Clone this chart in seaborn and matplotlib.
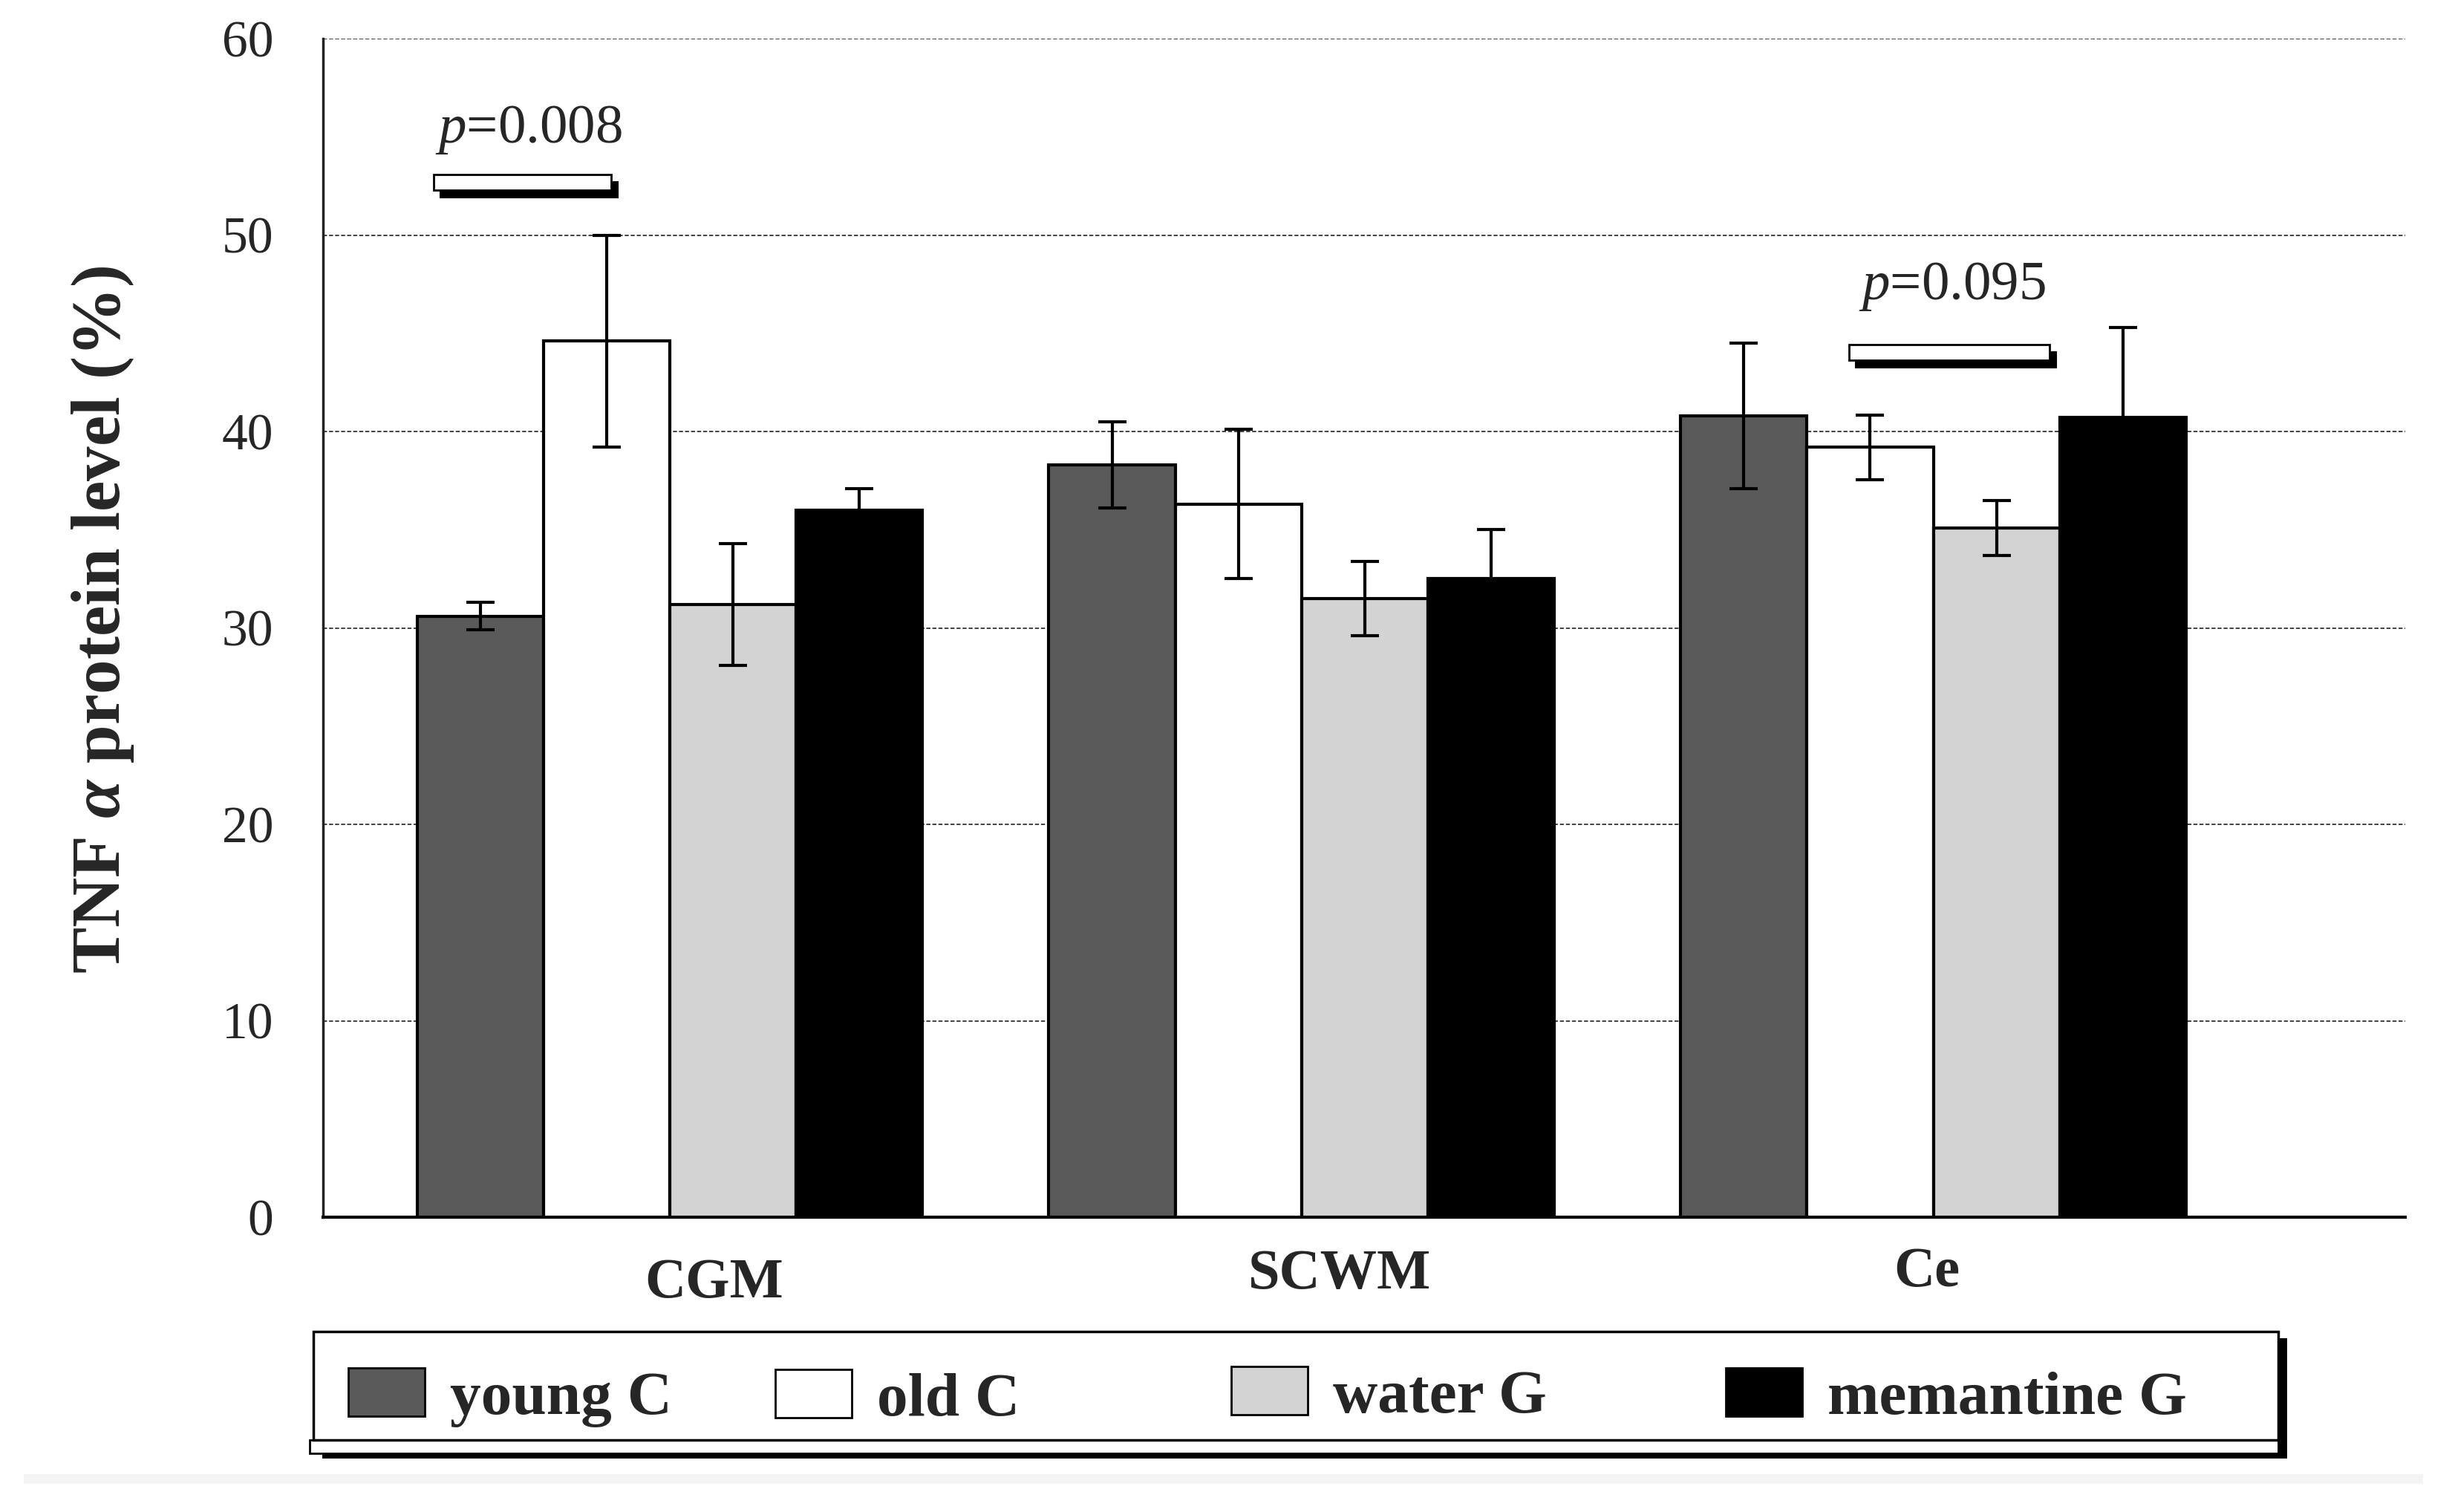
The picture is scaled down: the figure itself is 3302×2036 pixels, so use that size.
import pandas as pd
import seaborn as sns
import matplotlib.pyplot as plt
from matplotlib.patches import Rectangle, Patch
from matplotlib.transforms import offset_copy

# ----------------------------
# Data
# ----------------------------
regions = ["CGM", "SCWM", "Ce"]
groups = ["young C", "old C", "water G", "memantine G"]

young_c = [30.6, 38.3, 40.8]
old_c = [44.6, 36.3, 39.2]
water_g = [31.2, 31.5, 35.1]
memantine_g = [36.0, 32.5, 40.7]

young_c_err = [0.7, 2.2, 3.7]
old_c_err = [5.4, 3.8, 1.65]
water_g_err = [3.1, 1.9, 1.4]
memantine_g_err = [1.1, 2.5, 4.6]

colors = ["#5a5a5a", "#ffffff", "#d3d3d3", "#000000"]
y_ticks = [0, 10, 20, 30, 40, 50, 60]

# significance markers: label, bar x-range, bar bottom, label position
p_labels = ["0.008", "0.095"]
p_bar_x = [(-0.374, -0.093), (1.866, 2.184)]
p_bar_y = [52.3, 43.63]
p_text_pos = [(-0.372, 54.7), (1.882, 46.73)]

df = pd.DataFrame({
    "region": regions * 4,
    "group": [g for g in groups for _ in regions],
    "value": young_c + old_c + water_g + memantine_g,
})
errs = [young_c_err, old_c_err, water_g_err, memantine_g_err]

# ----------------------------
# Style
# ----------------------------
sns.set_style("white")
plt.rcParams["font.family"] = ["Liberation Serif", "DejaVu Serif"]
plt.rcParams["mathtext.fontset"] = "custom"
plt.rcParams["mathtext.rm"] = "Liberation Serif"
plt.rcParams["mathtext.it"] = "Liberation Serif:italic"
plt.rcParams["mathtext.bf"] = "Liberation Serif:bold"
plt.rcParams["mathtext.bfit"] = "Liberation Serif:italic:bold"

W, H = 3302, 2036
fig = plt.figure(figsize=(W / 100, H / 100), dpi=100)
ax = fig.add_axes([435 / W, 1 - 1639 / H, (3239 - 435) / W, (1639 - 52) / H])


def fig_box(x0, y0, x1, y1):
    """image pixel box (top-left origin) -> figure fraction rect"""
    return (x0 / W, 1 - y1 / H), (x1 - x0) / W, (y1 - y0) / H


sns.barplot(
    data=df, x="region", y="value", hue="group",
    order=regions, hue_order=groups, palette=colors,
    errorbar=None, edgecolor="black", linewidth=3,
    width=0.8, saturation=1, legend=False, ax=ax, zorder=3,
)

# error bars at the centres of the bars seaborn drew
for container, err in zip(ax.containers, errs):
    for bar, e in zip(container, err):
        xc = bar.get_x() + bar.get_width() / 2
        ax.errorbar(xc, bar.get_height(), yerr=e, color="black",
                    capsize=14, elinewidth=3, capthick=3, zorder=5)

ax.set_ylim(0, 60)
ax.set_xlim(-0.549, 2.747)
ax.set_yticks(y_ticks)
ax.yaxis.grid(True, linestyle=(0, (3, 1.5)), color="#333333", linewidth=1.3)
ax.set_axisbelow(True)
ax.tick_params(axis="y", length=16, width=1.3, color="#333333", pad=32, labelsize=50)
ax.tick_params(axis="x", length=0, labelbottom=False)
ax.set_xlabel("")
ax.set_ylabel("")

for s in ["top", "right"]:
    ax.spines[s].set_visible(False)
ax.spines["left"].set_linewidth(2.5)
ax.spines["left"].set_color("#222222")
ax.spines["bottom"].set_linewidth(3)
ax.spines["bottom"].set_color("black")

# category labels (slightly offset like the original)
label_dx = [0.07, 0.06, -0.01]
label_y = [-3.38, -2.92, -2.83]
for i, (name, dx, ly) in enumerate(zip(regions, label_dx, label_y)):
    ax.text(i + dx, ly, name, ha="center", va="center", fontsize=55,
            fontweight="bold", clip_on=False)

fig.text(0.0418, 0.59, r"TNF $\mathbfit{\alpha}$ protein level (%)", rotation=90,
         fontsize=67, fontweight="bold", ha="center", va="center")

# significance markers
shadow_tr = offset_copy(ax.transData, fig=fig, x=9, y=-10, units="dots")
for lab, (x0, x1), yb, (tx, ty) in zip(p_labels, p_bar_x, p_bar_y, p_text_pos):
    ax.add_patch(Rectangle((x0, yb), x1 - x0, 0.8, transform=shadow_tr,
                           facecolor="black", edgecolor="black", lw=1.5, zorder=6))
    ax.add_patch(Rectangle((x0, yb), x1 - x0, 0.8, facecolor="white",
                           edgecolor="black", lw=2, zorder=7))
    ax.text(tx, ty, f"$p$={lab}", fontsize=54, ha="left", va="baseline", zorder=8)

# legend frame: shadow, lower band, main box
for box, fc, lw, z in [((434, 1802, 3080, 1964), "black", 0, 2),
                       ((417, 1939, 3068, 1957), "white", 2, 3),
                       ((422, 1793, 3068, 1939), "white", 2.5, 4)]:
    xy, w, h = fig_box(*box)
    fig.add_artist(Rectangle(xy, w, h, transform=fig.transFigure, facecolor=fc,
                             edgecolor="black", lw=lw, zorder=z))

# one frameless legend entry per group, placed like the original (uneven gaps)
entry_x = [469, 1044, 1658, 2324]
entry_y = [1882, 1884, 1880, 1882]
for c, g, ex, ey in zip(colors, groups, entry_x, entry_y):
    leg = fig.legend(
        [Patch(facecolor=c, edgecolor="black", linewidth=2)], [g],
        loc="center left", bbox_to_anchor=(ex / W, 1 - ey / H), frameon=False,
        prop={"weight": "bold", "size": 60},
        handlelength=1.24, handleheight=0.82, handletextpad=0.4,
        borderpad=0, borderaxespad=0,
    )
    leg.set_zorder(6)

# faint strip at the bottom of the original image
xy, w, h = fig_box(32, 1985, 3263, 1998)
fig.add_artist(Rectangle(xy, w, h, transform=fig.transFigure,
                         facecolor="#f4f4f4", edgecolor="none", zorder=0))

fig.savefig("out.png", dpi=100)
